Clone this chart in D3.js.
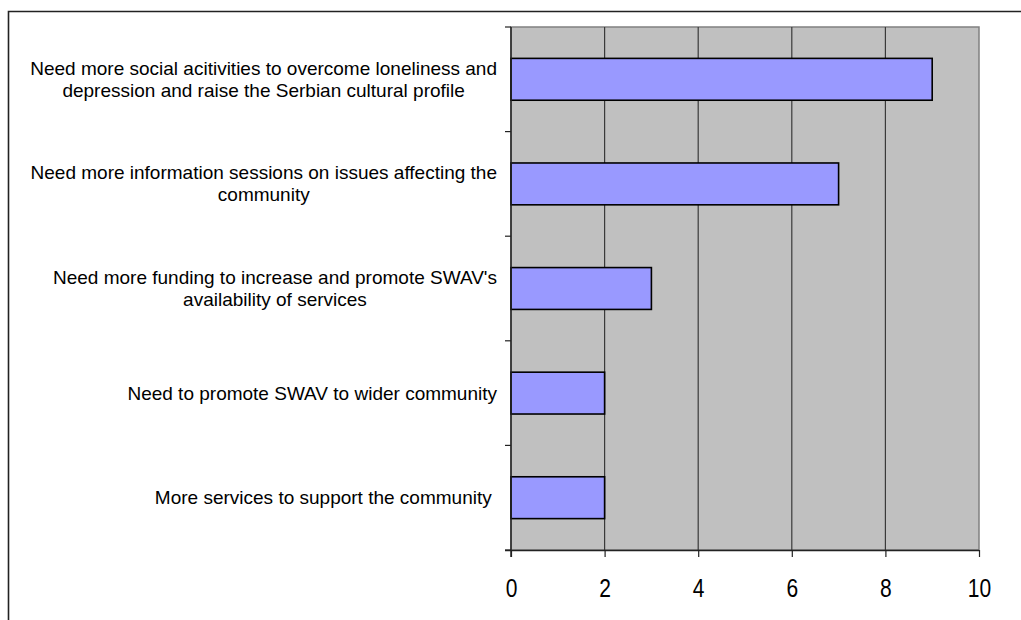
<!DOCTYPE html>
<html>
<head>
<meta charset="utf-8">
<script src="https://cdn.jsdelivr.net/npm/d3@7"></script>
<style>
html,body{margin:0;padding:0;background:#fff;}
svg{display:block;}
</style>
</head>
<body>
<svg id="chart" width="1021" height="620"></svg>
<script>
const categories = [
  ["Need more social acitivities to overcome loneliness and", "depression and raise the Serbian cultural profile"],
  ["Need more information sessions on issues affecting the", "community"],
  ["Need more funding to increase and promote SWAV's", "availability of services"],
  ["Need to promote SWAV to wider community"],
  ["More services to support the community "]
];
const values = [9, 7, 3, 2, 2];
const xTicks = [0, 2, 4, 6, 8, 10];

(function () {
const svg = d3.select("#chart");
const pL = 511, pR = 979, pT = 27, pB = 550;
const font = "'Liberation Sans', Arial, sans-serif";

// outer frame
svg.append("path").attr("d", "M8.5,620 L8.5,11.5 L1021,11.5")
  .attr("fill", "none").attr("stroke", "#222").attr("stroke-width", 1.6);

const x = d3.scaleLinear().domain([0, 10]).range([pL, pR]);
const y = d3.scaleBand().domain(d3.range(values.length)).range([pT, pB]).padding(0);

// plot background
svg.append("rect").attr("x", pL).attr("y", pT).attr("width", pR - pL).attr("height", pB - pT)
  .attr("fill", "#c0c0c0").attr("stroke", "#808080").attr("stroke-width", 1.5);

// gridlines
svg.append("g").selectAll("line").data(xTicks.filter(t => t > 0 && t < 10)).join("line")
  .attr("x1", d => x(d)).attr("x2", d => x(d)).attr("y1", pT).attr("y2", pB)
  .attr("stroke", "#3a3a3a").attr("stroke-width", 1.2);

// bars
const bh = y.step() * 0.4;
svg.append("g").selectAll("rect").data(values).join("rect")
  .attr("x", x(0)).attr("y", (d, i) => y(i) + y.step() / 2 - bh / 2)
  .attr("width", d => x(d) - x(0)).attr("height", bh)
  .attr("fill", "#9999ff").attr("stroke", "#000").attr("stroke-width", 1.6);

// y axis (left) with ticks at band boundaries
const yAxisG = svg.append("g");
yAxisG.append("line").attr("x1", pL).attr("x2", pL).attr("y1", pT).attr("y2", pB + 7)
  .attr("stroke", "#222").attr("stroke-width", 1.5);
const bounds = d3.range(values.length + 1).map(i => pT + i * y.step());
yAxisG.selectAll("line.t").data(bounds).join("line").attr("class", "t")
  .attr("x1", pL - 6).attr("x2", pL).attr("y1", d => d).attr("y2", d => d)
  .attr("stroke", "#222").attr("stroke-width", 1.2);

// x axis
const xAxis = d3.axisBottom(x).tickValues(xTicks).tickSize(7).tickSizeOuter(0);
const xg = svg.append("g").attr("transform", `translate(0,${pB})`).call(xAxis);
xg.select(".domain").attr("stroke", "#222").attr("stroke-width", 1.5).attr("d", `M${pL - 6},0.5H${pR}`);
xg.selectAll(".tick line").attr("stroke", "#222").attr("stroke-width", 1.2);
xg.selectAll(".tick text").attr("font-family", font).attr("font-size", 21).attr("fill", "#000")
  .attr("y", 0).attr("dy", null).attr("dominant-baseline", "central")
  .attr("transform", "translate(0,37.5) scale(1,1.25)");

// category labels
const labelRight = 497;
const lineH = 22;
categories.forEach((lines, i) => {
  const cy = y(i) + y.step() / 2;
  const g = svg.append("g");
  const texts = g.selectAll("text").data(lines).join("text")
    .attr("xml:space", "preserve")
    .attr("font-family", font).attr("font-size", 19).attr("fill", "#000")
    .attr("text-anchor", "middle").attr("dominant-baseline", "central")
    .attr("y", (d, j) => cy + (j - (lines.length - 1) / 2) * lineH)
    .text(d => d);
  let maxW = 0;
  texts.each(function () { maxW = Math.max(maxW, this.getComputedTextLength()); });
  texts.attr("x", labelRight - maxW / 2);
});
})();
</script>
</body>
</html>
